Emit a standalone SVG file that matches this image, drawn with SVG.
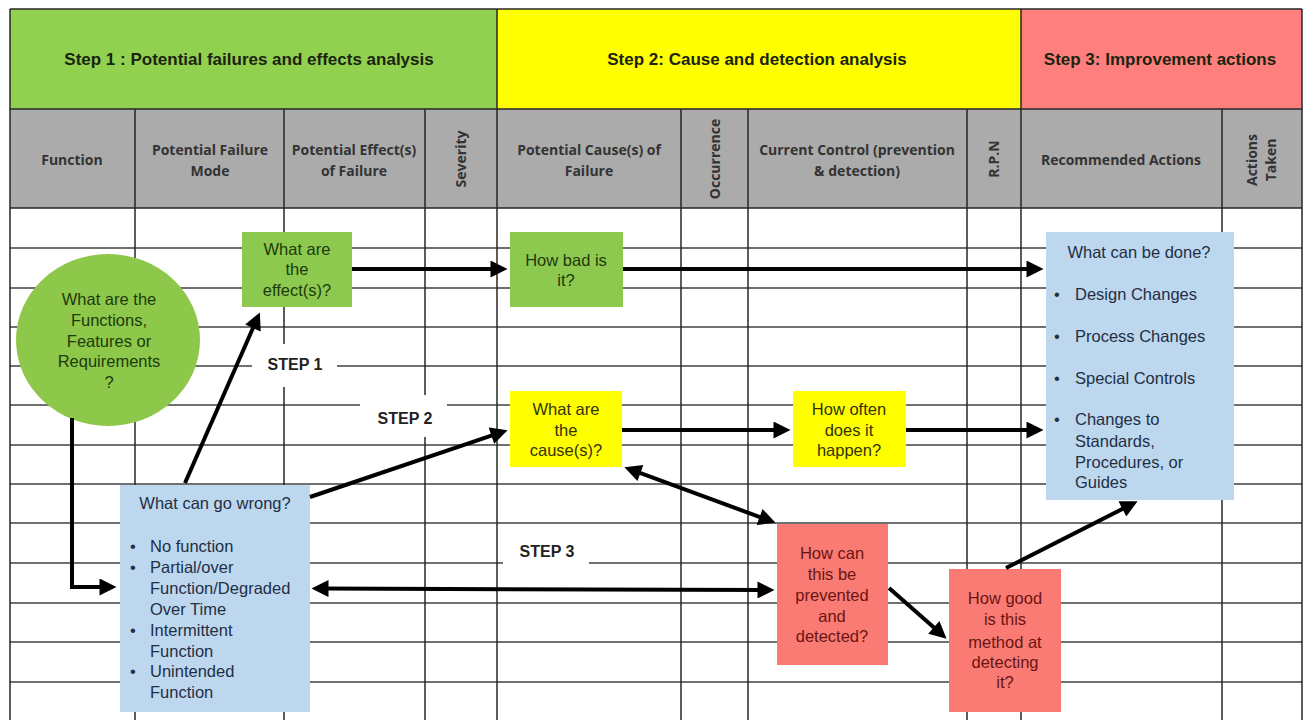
<svg xmlns="http://www.w3.org/2000/svg" width="1306" height="720" viewBox="0 0 1306 720">
  <defs>
    <style>
      .hdr { font-family: "Liberation Sans", Arial, sans-serif; font-weight: bold; font-size: 17px; fill: #1a240f; text-anchor: middle; }
      .col { font-family: "Open Sans", "Liberation Sans", sans-serif; font-weight: bold; font-size: 14px; fill: #333333; text-anchor: middle; }
      .grid-h { stroke: #707070; stroke-width: 2; }
      .grid-v { stroke: #262626; stroke-width: 1.5; }
      .t { font-family: "Liberation Sans", Arial, sans-serif; font-size: 16.5px; }
      .mid { text-anchor: middle; }
      .tg { fill: #1e3a0c; }
      .ty { fill: #333300; }
      .tr { fill: #6b1414; }
      .tb { fill: #1f2f45; }
      .step { font-family: "Liberation Sans", Arial, sans-serif; font-weight: bold; font-size: 16px; fill: #222222; text-anchor: middle; }
      .green { fill: #8dc94f; }
      .yellow { fill: #ffff00; }
      .red { fill: #f97b73; }
      .blue { fill: #bdd7ee; }
      .arrow { stroke: #000000; stroke-width: 4; fill: none; }
    </style>
    <marker id="ah" viewBox="0 0 10 10" refX="5" refY="5" markerWidth="18" markerHeight="17" markerUnits="userSpaceOnUse" orient="auto-start-reverse">
      <path d="M0,0 L10,5 L0,10 z" fill="#000000"/>
    </marker>
  </defs>

  <rect width="1306" height="720" fill="#ffffff"/>

  <!-- table background: step bands and column header row -->
  <g id="table">
    <rect x="10" y="9" width="487" height="100" fill="#92d050"/>
    <rect x="497" y="9" width="524" height="100" fill="#ffff00"/>
    <rect x="1021" y="9" width="281" height="100" fill="#ff7f7f"/>
    <rect x="10" y="109" width="1292" height="99" fill="#ababab"/>

    <!-- horizontal rules -->
    <line class="grid-v" x1="10" y1="9" x2="1302" y2="9"/>
    <line class="grid-v" x1="10" y1="109" x2="1302" y2="109"/>
    <line class="grid-v" x1="10" y1="208" x2="1302" y2="208"/>
    <g class="grid-h">
      <line x1="10" y1="248" x2="1302" y2="248"/>
      <line x1="10" y1="288" x2="1302" y2="288"/>
      <line x1="10" y1="327" x2="1302" y2="327"/>
      <line x1="10" y1="366" x2="1302" y2="366"/>
      <line x1="10" y1="405" x2="1302" y2="405"/>
      <line x1="10" y1="445" x2="1302" y2="445"/>
      <line x1="10" y1="484" x2="1302" y2="484"/>
      <line x1="10" y1="523" x2="1302" y2="523"/>
      <line x1="10" y1="563" x2="1302" y2="563"/>
      <line x1="10" y1="603" x2="1302" y2="603"/>
      <line x1="10" y1="642" x2="1302" y2="642"/>
      <line x1="10" y1="682" x2="1302" y2="682"/>
    </g>

    <!-- vertical rules -->
    <g class="grid-v">
      <line x1="10" y1="9" x2="10" y2="720"/>
      <line x1="1302" y1="9" x2="1302" y2="720"/>
      <line x1="497" y1="9" x2="497" y2="720"/>
      <line x1="1021" y1="9" x2="1021" y2="720"/>
      <line x1="135" y1="109" x2="135" y2="720"/>
      <line x1="284" y1="109" x2="284" y2="720"/>
      <line x1="425" y1="109" x2="425" y2="720"/>
      <line x1="681" y1="109" x2="681" y2="720"/>
      <line x1="748" y1="109" x2="748" y2="720"/>
      <line x1="967" y1="109" x2="967" y2="720"/>
      <line x1="1222" y1="109" x2="1222" y2="720"/>
    </g>

    <!-- step titles -->
    <text class="hdr" x="249" y="65">Step 1 : Potential failures  and effects analysis</text>
    <text class="hdr" x="757" y="65">Step 2: Cause and detection analysis</text>
    <text class="hdr" x="1160" y="65">Step 3: Improvement actions</text>

    <!-- column titles -->
    <text class="col" x="72" y="165">Function</text>
    <text class="col" x="210" y="155">Potential Failure</text>
    <text class="col" x="210" y="176">Mode</text>
    <text class="col" x="354" y="155">Potential Effect(s)</text>
    <text class="col" x="354" y="176">of Failure</text>
    <text class="col" transform="translate(466,159) rotate(-90)">Severity</text>
    <text class="col" x="589" y="155">Potential Cause(s) of</text>
    <text class="col" x="589" y="176">Failure</text>
    <text class="col" transform="translate(720,159) rotate(-90)">Occurrence</text>
    <text class="col" x="857" y="155">Current Control (prevention</text>
    <text class="col" x="857" y="176">&amp; detection)</text>
    <text class="col" transform="translate(999,159) rotate(-90)">R.P.N</text>
    <text class="col" x="1121" y="165">Recommended Actions</text>
    <text class="col" transform="translate(1257,160) rotate(-90)">Actions</text>
    <text class="col" transform="translate(1276,160) rotate(-90)">Taken</text>
  </g>

  <!-- step labels on white patches -->
  <g id="step-labels">
    <rect x="252" y="344" width="85" height="43" fill="#ffffff"/>
    <text class="step" x="295" y="370">STEP 1</text>
    <rect x="360" y="395" width="87" height="42" fill="#ffffff"/>
    <text class="step" x="405" y="424">STEP 2</text>
    <rect x="503" y="536" width="86" height="36" fill="#ffffff"/>
    <text class="step" x="547" y="557">STEP 3</text>
  </g>

  <!-- nodes -->
  <g id="functions">
    <ellipse cx="108" cy="340" rx="92" ry="86" fill="#8dc84a"/>
    <text class="t mid tg" x="109" y="305">What are the</text>
    <text class="t mid tg" x="109" y="326">Functions,</text>
    <text class="t mid tg" x="109" y="347">Features or</text>
    <text class="t mid tg" x="109" y="367">Requirements</text>
    <text class="t mid tg" x="109" y="388">?</text>
  </g>

  <g id="effects">
    <rect class="green" x="242" y="232" width="110" height="75"/>
    <text class="t mid tg" x="297" y="255">What are</text>
    <text class="t mid tg" x="297" y="275">the</text>
    <text class="t mid tg" x="297" y="296">effect(s)?</text>
  </g>

  <g id="severity">
    <rect class="green" x="510" y="232" width="113" height="75"/>
    <text class="t mid tg" x="566" y="266">How bad is</text>
    <text class="t mid tg" x="566" y="286">it?</text>
  </g>

  <g id="causes">
    <rect class="yellow" x="510" y="391" width="112" height="76"/>
    <text class="t mid ty" x="566" y="415">What are</text>
    <text class="t mid ty" x="566" y="436">the</text>
    <text class="t mid ty" x="566" y="456">cause(s)?</text>
  </g>

  <g id="occurrence">
    <rect class="yellow" x="793" y="391" width="113" height="76"/>
    <text class="t mid ty" x="849" y="415">How often</text>
    <text class="t mid ty" x="849" y="436">does it</text>
    <text class="t mid ty" x="849" y="456">happen?</text>
  </g>

  <g id="actions">
    <rect class="blue" x="1046" y="232" width="188" height="268"/>
    <text class="t mid tb" x="1139" y="258">What can be done?</text>
    <g class="t tb">
      <text x="1054" y="300">•</text><text x="1075" y="300">Design Changes</text>
      <text x="1054" y="342">•</text><text x="1075" y="342">Process Changes</text>
      <text x="1054" y="384">•</text><text x="1075" y="384">Special Controls</text>
      <text x="1054" y="425">•</text><text x="1075" y="425">Changes to</text>
      <text x="1075" y="447">Standards,</text>
      <text x="1075" y="468">Procedures, or</text>
      <text x="1075" y="488">Guides</text>
    </g>
  </g>

  <g id="failure-modes">
    <rect class="blue" x="120" y="485" width="190" height="227"/>
    <text class="t mid tb" x="215" y="509">What can go wrong?</text>
    <g class="t tb">
      <text x="130" y="552">•</text><text x="150" y="552">No function</text>
      <text x="130" y="573">•</text><text x="150" y="573">Partial/over</text>
      <text x="150" y="594">Function/Degraded</text>
      <text x="150" y="615">Over Time</text>
      <text x="130" y="636">•</text><text x="150" y="636">Intermittent</text>
      <text x="150" y="657">Function</text>
      <text x="130" y="677">•</text><text x="150" y="677">Unintended</text>
      <text x="150" y="698">Function</text>
    </g>
  </g>

  <g id="controls">
    <rect class="red" x="777" y="524" width="111" height="141"/>
    <text class="t mid tr" x="832" y="559">How can</text>
    <text class="t mid tr" x="832" y="580">this be</text>
    <text class="t mid tr" x="832" y="601">prevented</text>
    <text class="t mid tr" x="832" y="622">and</text>
    <text class="t mid tr" x="832" y="642">detected?</text>
  </g>

  <g id="detection">
    <rect class="red" x="949" y="569" width="112" height="143"/>
    <text class="t mid tr" x="1005" y="604">How good</text>
    <text class="t mid tr" x="1005" y="625">is this</text>
    <text class="t mid tr" x="1005" y="648">method at</text>
    <text class="t mid tr" x="1005" y="668">detecting</text>
    <text class="t mid tr" x="1005" y="688">it?</text>
  </g>

  <!-- connectors -->
  <g id="connectors" class="arrow">
    <path d="M72,418 L72,587 L108,587" marker-end="url(#ah)"/>
    <line x1="185" y1="483" x2="256.4" y2="320.2" marker-end="url(#ah)"/>
    <line x1="352" y1="269" x2="499" y2="269" marker-end="url(#ah)"/>
    <line x1="623" y1="269" x2="1035" y2="269" marker-end="url(#ah)"/>
    <line x1="310" y1="497" x2="499.5" y2="432.9" marker-end="url(#ah)"/>
    <line x1="622" y1="430" x2="782" y2="430" marker-end="url(#ah)"/>
    <line x1="906" y1="430" x2="1035" y2="430" marker-end="url(#ah)"/>
    <line x1="632.4" y1="470.1" x2="767.6" y2="519.9" marker-start="url(#ah)" marker-end="url(#ah)"/>
    <line x1="320" y1="588.5" x2="766" y2="590" marker-start="url(#ah)" marker-end="url(#ah)"/>
    <line x1="889" y1="588" x2="940.2" y2="633.1" marker-end="url(#ah)"/>
    <line x1="1006" y1="568" x2="1130" y2="505.1" marker-end="url(#ah)"/>
  </g>
</svg>
